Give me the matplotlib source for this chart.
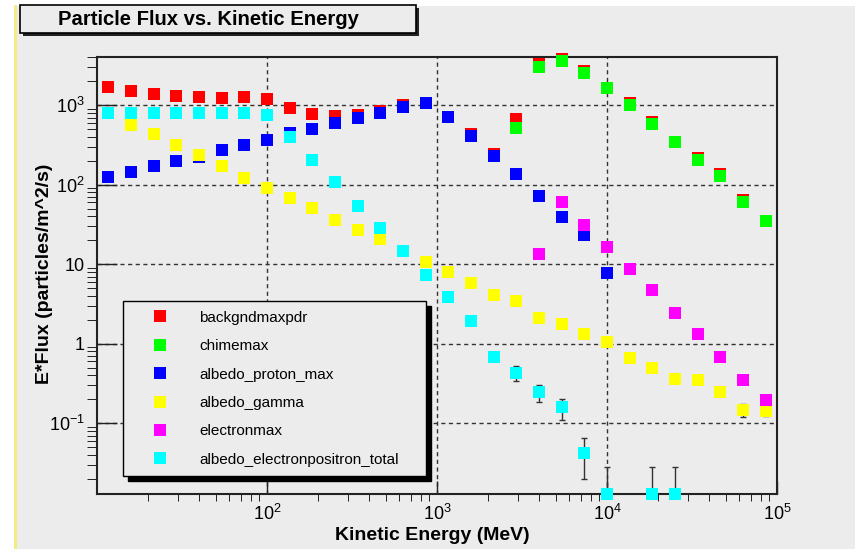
import numpy as np
import matplotlib.pyplot as plt
from matplotlib.patches import Rectangle
from matplotlib.lines import Line2D
from matplotlib.ticker import FixedLocator, FuncFormatter, NullFormatter

plt.rcParams['font.family'] = ['Liberation Sans', 'DejaVu Sans']
plt.rcParams['mathtext.fontset'] = 'custom'
plt.rcParams['mathtext.rm'] = 'Liberation Sans'
plt.rcParams['mathtext.it'] = 'Liberation Sans'
plt.rcParams['mathtext.bf'] = 'Liberation Sans:bold'

nan = np.nan

# kinetic energy bins (MeV)
energy = [11.66, 15.85, 21.54, 29.29, 39.81, 54.12, 73.56, 100.0, 135.9, 184.8,
          251.2, 341.5, 464.2, 631.0, 857.7, 1166, 1585, 2154, 2929, 3981,
          5412, 7356, 10000, 13594, 18478, 25119, 34145, 46416, 63096, 85770]

backgndmaxpdr = [1715, 1527, 1400, 1310, 1260, 1225, 1272, 1190, 933, 771,
                 723, 762, 840, 1000, 1060, 720, 436, 244, 678, 3300,
                 3800, 2700, 1640, 1060, 617, 348, 217, 138, 64.6, 35.3]

chimemax = [nan, nan, nan, nan, nan, nan, nan, nan, nan, nan,
            nan, nan, nan, nan, nan, nan, nan, nan, 522, 3060,
            3600, 2550, 1640, 1000, 582, 348, 205, 130, 60.6, 35.3]

albedo_proton_max = [126.5, 143.6, 171, 198, 225, 274, 316, 363, 445, 504,
                     598, 698, 800, 960, 1060, 720, 411, 230, 136, 71.6,
                     39.4, 23.4, 7.8, nan, nan, nan, nan, nan, nan, nan]

albedo_gamma = [nan, 573, 431, 314, 237, 172, 123, 91.8, 67.6, 50.6,
                36.4, 26.8, 20.6, 14.5, 10.8, 8.07, 5.87, 4.1, 3.45, 2.09,
                1.76, 1.31, 1.06, 0.656, 0.49, 0.36, 0.35, 0.25, 0.147, 0.144]
albedo_gamma_err = [0, 0, 0, 0, 0, 0, 0, 0, 0, 0,
                    0, 0, 0, 0, 0, 0, 0, 0, 0, 0,
                    0, 0, 0, 0, 0, 0, 0, 0.02, 0.028, 0.02]

electronmax = [nan, nan, nan, nan, nan, nan, nan, nan, nan, nan,
               nan, nan, nan, nan, nan, nan, nan, nan, nan, 13.5,
               60.7, 31.5, 16.7, 8.73, 4.75, 2.42, 1.32, 0.69, 0.35, 0.196]

albedo_ep_total = [794, 794, 794, 794, 794, 794, 794, 748, 403, 205,
                   107, 54, 28.4, 14.8, 7.3, 3.85, 1.95, 0.69, 0.433, 0.245,
                   0.158, 0.0427, 0, nan, 0, 0, nan, nan, nan, nan]
albedo_ep_err = [0, 0, 0, 0, 0, 0, 0, 0, 0, 0,
                 0, 0, 0, 0, 0, 0, 0, 0, 0.09, 0.06,
                 0.047, 0.023, 0.028, 0, 0.028, 0.028, 0, 0, 0, 0]

ymin, ymax = 0.0129, 4050
xmin, xmax = 10, 1e5

series = [
    ('backgndmaxpdr', backgndmaxpdr, None, '#ff0000'),
    ('chimemax', chimemax, None, '#00ff00'),
    ('albedo_proton_max', albedo_proton_max, None, '#0000ff'),
    ('albedo_gamma', albedo_gamma, albedo_gamma_err, '#ffff00'),
    ('electronmax', electronmax, None, '#ff00ff'),
    ('albedo_electronpositron_total', albedo_ep_total, albedo_ep_err, '#00ffff'),
]

bg = '#ececec'
fig = plt.figure(figsize=(8.55, 5.49), dpi=100)
W, H = 855, 549

# canvas background with yellowish left border
fig.patches.append(Rectangle((14 / W, 0), 841 / W, 543 / H, transform=fig.transFigure,
                             facecolor=bg, edgecolor='none', zorder=-10))
fig.lines.append(Line2D([15 / W, 15 / W], [0, 543 / H], transform=fig.transFigure,
                        color='#f3ec7a', lw=2, zorder=-9))

# title box with shadow
fig.patches.append(Rectangle((23 / W, 1 - 36 / H), 396 / W, 28 / H, transform=fig.transFigure,
                             facecolor='#222222', edgecolor='none', zorder=1))
fig.patches.append(Rectangle((20 / W, 1 - 33 / H), 396 / W, 28 / H, transform=fig.transFigure,
                             facecolor=bg, edgecolor='black', lw=1.2, zorder=2))
fig.text(208 / W, 1 - 19.5 / H, 'Particle Flux vs. Kinetic Energy', ha='center', va='center',
         fontsize=14.6, fontweight='bold', zorder=3)

ax = fig.add_axes([97 / W, 1 - 494 / H, 680 / W, 437 / H])
ax.set_facecolor(bg)
ax.set_xscale('log')
ax.set_yscale('log')

for label, vals, err, color in series:
    v = np.array(vals, dtype=float)
    # zero values are drawn on the lower edge, as ROOT does
    yplot = np.where(v <= 0, ymin, v)
    ax.plot(energy, yplot, 's', color=color, ms=8, mew=0, label=label, clip_on=False, zorder=3)
    if err is not None:
        e = np.array(err, dtype=float)
        m = e > 0
        lo = np.where(v[m] <= 0, 0, e[m])
        hi = (v[m] + e[m]) - yplot[m]
        ax.errorbar(np.array(energy)[m], yplot[m], yerr=[lo, hi], fmt='none',
                    ecolor='#333333', elinewidth=1, capsize=2, capthick=1, zorder=2)

ax.set_xlim(xmin, xmax)
ax.set_ylim(ymin, ymax)

ax.xaxis.set_major_locator(FixedLocator([1e2, 1e3, 1e4, 1e5]))
ax.xaxis.set_minor_locator(FixedLocator([m * 10 ** d for d in range(1, 5) for m in range(2, 10)]))
ax.yaxis.set_major_locator(FixedLocator([0.1, 1, 10, 100, 1000]))
ax.yaxis.set_minor_locator(FixedLocator([m * 10 ** d for d in range(-2, 4) for m in range(2, 10)]))


def fmt(v, pos):
    if v == 1:
        return '1'
    if v == 10:
        return '10'
    return r'$10^{%d}$' % round(np.log10(v))


ax.xaxis.set_major_formatter(FuncFormatter(fmt))
ax.yaxis.set_major_formatter(FuncFormatter(fmt))
ax.xaxis.set_minor_formatter(NullFormatter())
ax.yaxis.set_minor_formatter(NullFormatter())

ax.tick_params(direction='in', top=False, right=False, labelsize=13, width=1, color='#222222')
ax.tick_params(axis='y', which='major', length=14.4, pad=9)
ax.tick_params(axis='y', which='minor', length=7.2)
ax.tick_params(axis='x', which='major', length=9.4, pad=7)
ax.tick_params(axis='x', which='minor', length=4.7)

ax.grid(True, which='major', color='#333333', lw=1, ls=(0, (3, 2.5)))
ax.set_axisbelow(True)
for s in ax.spines.values():
    s.set_linewidth(1.5)
    s.set_color('#222222')

ax.set_xlabel('Kinetic Energy (MeV)', fontsize=14, fontweight='bold')
ax.xaxis.set_label_coords(0.4926, -0.076)
ax.set_ylabel('E*Flux (particles/m^2/s)', fontsize=14, fontweight='bold')
ax.yaxis.set_label_coords(-0.065, 0.505)

leg = ax.legend(loc='upper left', bbox_to_anchor=(26 / 680, 193 / 437, 303 / 680, 0),
                mode='expand', borderaxespad=0, fontsize=11, frameon=True, fancybox=False,
                facecolor=bg, edgecolor='black', framealpha=1, borderpad=0.64,
                handlelength=3.56, handletextpad=0.77, labelspacing=0.94, numpoints=1,
                shadow={'color': 'black', 'alpha': 1, 'ox': 3.5, 'oy': -3.5})
leg.get_frame().set_linewidth(1)
leg.set_zorder(5)

fig.savefig('out.png', dpi=100)
